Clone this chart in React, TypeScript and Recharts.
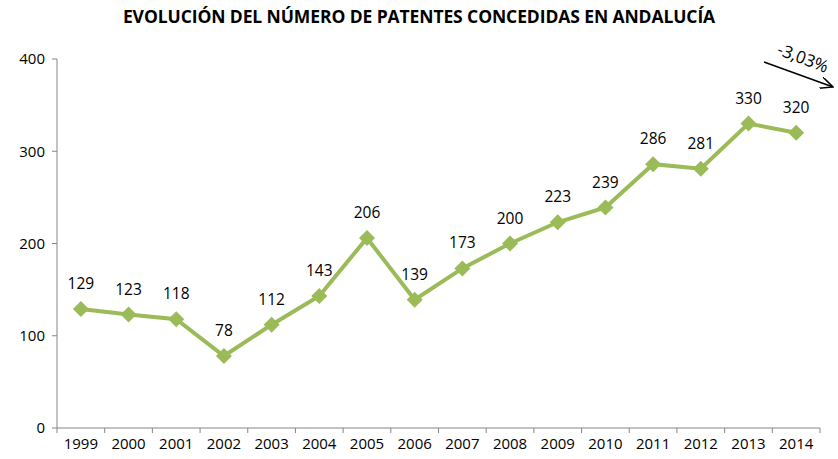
import React from "react";
import { LineChart, Line, XAxis, YAxis, LabelList } from "recharts";

const years = ["1999","2000","2001","2002","2003","2004","2005","2006","2007","2008","2009","2010","2011","2012","2013","2014"];
const patents = [129,123,118,78,112,143,206,139,173,200,223,239,286,281,330,320];
const yTicks = [0,100,200,300,400];
const title = "EVOLUCIÓN DEL NÚMERO DE PATENTES CONCEDIDAS EN ANDALUCÍA";
const changeLabel = "-3,03%";

const data = years.map((y, i) => ({ year: y, value: patents[i] }));

const W = 838, H = 459;
const M = { top: 59, right: 18, bottom: 0, left: 0 };
const Y_W = 57;
const X_H = 31;
const plotW = W - M.left - M.right - Y_W;
const band = plotW / years.length;
const FONT = "'Open Sans', sans-serif";
const AXIS = "#868686";
const GREEN = "#9BBB59";

const XTick = (props: any) => {
  const { x, y, payload, index } = props;
  const left = x - band / 2;
  const right = x + band / 2;
  return (
    <g>
      <line x1={left} y1={y - 8} x2={left} y2={y - 3} stroke={AXIS} strokeWidth={1} />
      {index === years.length - 1 && (
        <line x1={right} y1={y - 8} x2={right} y2={y - 3} stroke={AXIS} strokeWidth={1} />
      )}
      <text x={x} y={y + 13} textAnchor="middle" fontSize={15} fontFamily={FONT} fill="#000">
        {payload.value}
      </text>
    </g>
  );
};

const Diamond = (props: any) => {
  const { cx, cy } = props;
  if (cx == null || cy == null) return null;
  const r = 8;
  return (
    <path d={`M${cx},${cy - r} L${cx + r},${cy} L${cx},${cy + r} L${cx - r},${cy} Z`} fill={GREEN} stroke="none" />
  );
};

export default function App() {
  return (
    <div style={{ position: "absolute", left: 0, top: 0, width: W, height: H, background: "#fff" }}>
      <div style={{ position: "absolute", left: 0, top: 4, width: W, textAlign: "center", fontFamily: FONT, fontWeight: 700, fontSize: 17.5, color: "#000", letterSpacing: -0.1 }}>
        {title}
      </div>
      <LineChart width={W} height={H} data={data} margin={M}>
        <XAxis
          dataKey="year"
          scale="band"
          height={X_H}
          axisLine={{ stroke: AXIS }}
          tickLine={false}
          tick={<XTick />}
          interval={0}
        />
        <YAxis
          domain={[0, 400]}
          ticks={yTicks}
          width={Y_W}
          axisLine={{ stroke: AXIS }}
          tickLine={{ stroke: AXIS }}
          tickSize={5}
          tickMargin={7}
          tick={{ fontSize: 15, fontFamily: FONT, fill: "#000" }}
        />
        <Line
          dataKey="value"
          stroke={GREEN}
          strokeWidth={4}
          dot={<Diamond />}
          activeDot={false}
          isAnimationActive={false}
        >
          <LabelList dataKey="value" position="top" offset={20} style={{ fontSize: 15.5, fontFamily: FONT, fill: "#000" }} />
        </Line>
      </LineChart>
      <svg style={{ position: "absolute", left: 0, top: 0, pointerEvents: "none" }} width={W} height={H}>
        <defs>
          <marker id="arr" markerWidth="14" markerHeight="12" refX="13" refY="6" orient="auto" markerUnits="userSpaceOnUse">
            <path d="M0,0 L13,6 L0,12" fill="none" stroke="#000" strokeWidth={1.5} />
          </marker>
        </defs>
        <line x1={764} y1={62} x2={833} y2={87} stroke="#000" strokeWidth={1.5} markerEnd="url(#arr)" />
        <text x={803} y={64} textAnchor="middle" fontSize={17} fontFamily={FONT} fill="#000" transform="rotate(21 803 58)">
          {changeLabel}
        </text>
      </svg>
    </div>
  );
}
